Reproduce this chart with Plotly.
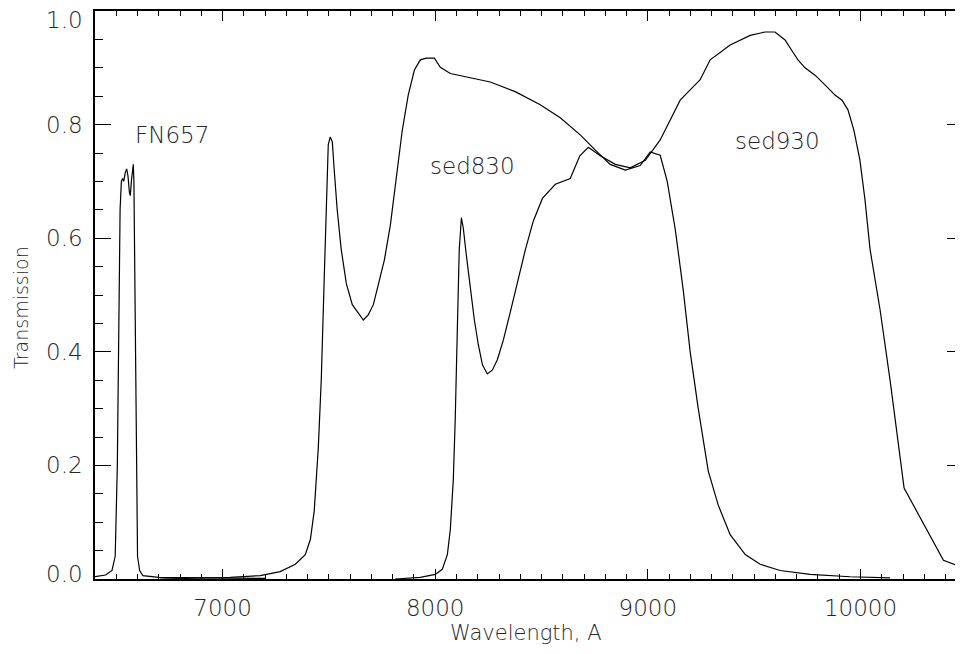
import plotly.graph_objects as go

# ---- data ----
fn657_wl = [6400, 6450, 6480, 6495, 6505, 6512, 6518, 6524, 6530, 6535, 6542, 6549, 6555, 6562,
            6566, 6571, 6576, 6580, 6583, 6587, 6591, 6595, 6600, 6610, 6625, 6700, 6900, 7200]
fn657_tr = [0.004, 0.007, 0.015, 0.04, 0.2, 0.45, 0.65, 0.70, 0.705, 0.70, 0.715, 0.722, 0.71, 0.68,
            0.675, 0.70, 0.725, 0.730, 0.70, 0.55, 0.3, 0.12, 0.04, 0.015, 0.006, 0.003, 0.002, 0.001]

sed830_wl = [6707, 7036, 7177, 7271, 7342, 7389, 7413, 7431, 7450, 7464, 7478, 7488, 7497, 7506,
             7516, 7525, 7539, 7558, 7582, 7610, 7638, 7662, 7685, 7709, 7732, 7761, 7789, 7817,
             7845, 7873, 7902, 7930, 7958, 7996, 8024, 8071, 8142, 8259, 8376, 8494, 8588, 8682,
             8753, 8823, 8894, 8964, 9011, 9058, 9091, 9129, 9166, 9199, 9237, 9284, 9331, 9387,
             9458, 9528, 9622, 9763, 9951, 10139]
sed830_tr = [0.0, 0.003, 0.006, 0.013, 0.026, 0.043, 0.07, 0.12, 0.23, 0.35, 0.53, 0.67, 0.765, 0.778,
             0.77, 0.72, 0.65, 0.58, 0.52, 0.483, 0.468, 0.456, 0.465, 0.483, 0.518, 0.562, 0.623, 0.702,
             0.79, 0.852, 0.896, 0.914, 0.917, 0.917, 0.901, 0.89, 0.884, 0.875, 0.858, 0.835, 0.812, 0.782,
             0.755, 0.73, 0.72, 0.728, 0.752, 0.746, 0.70, 0.615, 0.51, 0.40, 0.30, 0.19, 0.13, 0.078,
             0.043, 0.026, 0.015, 0.008, 0.004, 0.002]

sed930_wl = [7812, 7930, 8000, 8033, 8057, 8071, 8085, 8094, 8104, 8113, 8123, 8132, 8146, 8165,
             8184, 8203, 8222, 8245, 8269, 8292, 8320, 8353, 8391, 8424, 8461, 8504, 8565, 8635,
             8680, 8720, 8776, 8847, 8917, 8988, 9058, 9105, 9152, 9199, 9246, 9293, 9387, 9481, 9551,
             9598, 9645, 9683, 9706, 9739, 9786, 9833, 9880, 9913, 9941, 9969, 9997, 10021, 10045,
             10092, 10139, 10205, 10390, 10482]
sed930_tr = [0.0, 0.003, 0.008, 0.017, 0.043, 0.087, 0.175, 0.28, 0.44, 0.58, 0.636, 0.618, 0.571, 0.51,
             0.456, 0.412, 0.377, 0.361, 0.368, 0.386, 0.42, 0.47, 0.53, 0.58, 0.63, 0.67, 0.695, 0.705,
             0.745, 0.76, 0.745, 0.73, 0.724, 0.737, 0.773, 0.808, 0.843, 0.861, 0.879, 0.914, 0.94, 0.957, 0.963,
             0.963, 0.949, 0.927, 0.914, 0.90, 0.887, 0.87, 0.852, 0.843, 0.826, 0.79, 0.738, 0.668, 0.58,
             0.474, 0.35, 0.16, 0.033, 0.02]

labels = ["FN657", "sed830", "sed930"]
label_x = [6580, 7967, 9402]
label_y = [0.782, 0.727, 0.771]

x_ticks = [7000, 8000, 9000, 10000]
x_ticktext = ["7000", "8000", "9000", "10000"]
y_ticks = [0.0, 0.2, 0.4, 0.6, 0.8, 1.0]
y_ticktext = ["0.0", "0.2", "0.4", "0.6", "0.8", "1.0"]

x_range = [6400, 10482]
y_range = [0.0, 1.0]

FONT = "DejaVu Sans, Liberation Sans, sans-serif"
TXT = "#262626"

fig = go.Figure()
for wl, tr in [(fn657_wl, fn657_tr), (sed830_wl, sed830_tr), (sed930_wl, sed930_tr)]:
    fig.add_trace(go.Scatter(x=wl, y=tr, mode="lines",
                             line=dict(color="black", width=1.2), showlegend=False,
                             hoverinfo="skip"))

for t, xv, yv in zip(labels, label_x, label_y):
    fig.add_annotation(x=xv, y=yv, text=t, showarrow=False, xanchor="left", yanchor="middle",
                       font=dict(family=FONT, size=23, color=TXT, weight=300))

# y tick labels as text at their tick values (end labels nudged inward, as in the reference)
for v, t in zip(y_ticks, y_ticktext):
    shift = 0
    if v == y_range[0]:
        shift = 5
    elif v == y_range[1]:
        shift = -9
    fig.add_annotation(xref="paper", yref="y", x=0, xshift=-10, y=v, yshift=shift, text=t,
                       showarrow=False, xanchor="right", yanchor="middle",
                       font=dict(family=FONT, size=23, color=TXT, weight=300))

# axis titles as annotations for exact placement
fig.add_annotation(xref="paper", yref="paper", x=0.497, y=0, yshift=-54, text="Wavelength, A",
                   showarrow=False, xanchor="center", yanchor="middle",
                   font=dict(family=FONT, size=21, color=TXT, weight=300))
fig.add_annotation(xref="paper", yref="paper", x=0, xshift=-74, y=0.477, text="Transmission",
                   textangle=-90, showarrow=False, xanchor="center", yanchor="middle", borderpad=0,
                   font=dict(family=FONT, size=19, color=TXT, weight=300))

# page body has an 8px default margin: figure is sized/placed to compensate
fig.update_layout(
    width=955, height=646,
    margin=dict(l=87, r=0, t=3, b=75, autoexpand=False),
    paper_bgcolor="white", plot_bgcolor="white",
    showlegend=False,
    font=dict(family=FONT, size=23, color=TXT, weight=300),
)
fig.update_xaxes(
    range=x_range, showgrid=False, zeroline=False, automargin=False,
    showline=True, linecolor="black", linewidth=1.5, mirror="ticks",
    ticks="inside", ticklen=10, tickwidth=1, tickcolor="black",
    tickmode="array", tickvals=x_ticks, ticktext=x_ticktext, ticklabelstandoff=8,
    ticklabeloverflow="allow",
    tickfont=dict(family=FONT, size=23, color=TXT, weight=300),
    minor=dict(ticks="inside", ticklen=5, tickwidth=1, tickcolor="black", dtick=100, tick0=7000, showgrid=False),
)
fig.update_yaxes(
    range=y_range, showgrid=False, zeroline=False, automargin=False,
    showline=True, linecolor="black", linewidth=1.5, mirror="ticks",
    ticks="inside", ticklen=16, tickwidth=1, tickcolor="black",
    tickmode="array", tickvals=y_ticks, showticklabels=False,
    minor=dict(ticks="inside", ticklen=8, tickwidth=1, tickcolor="black", dtick=0.05, tick0=0, showgrid=False),
)

fig.write_html("out.html")
